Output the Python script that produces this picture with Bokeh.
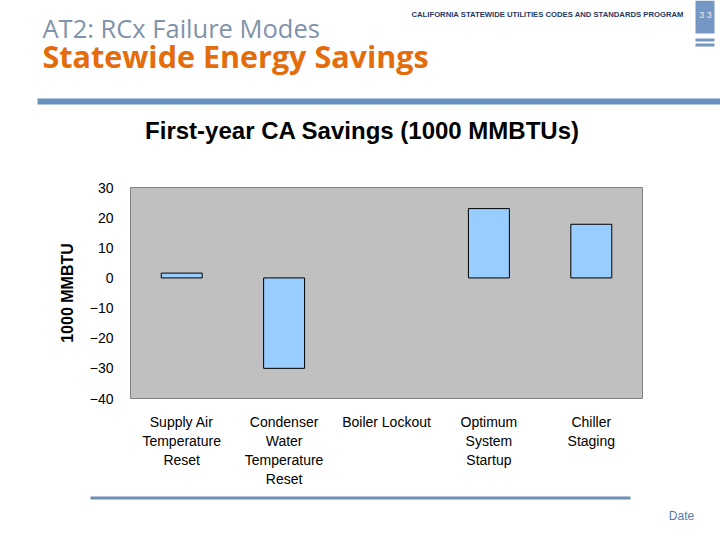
from bokeh.plotting import figure
from bokeh.layouts import column
from bokeh.models import Range1d, FactorRange, FixedTicker
from bokeh.core.properties import value
from bokeh.embed import file_html
from bokeh.resources import INLINE

categories = ["Supply Air\nTemperature\nReset", "Condenser\nWater\nTemperature\nReset",
              "Boiler Lockout", "Optimum\nSystem\nStartup", "Chiller\nStaging"]
savings = [1.6, -30.0, 0.0, 23.0, 17.8]
y_ticks = [-40, -30, -20, -10, 0, 10, 20, 30]

W = 720
H_HEAD, H_CHART, H_FOOT = 165, 325, 50


def canvas(h, y0):
    f = figure(width=W, height=h, output_backend="svg", toolbar_location=None,
               x_range=Range1d(0, W), y_range=Range1d(y0 + h, y0),
               x_axis_type=None, y_axis_type=None, min_border=0,
               background_fill_color="white", border_fill_color="white")
    f.outline_line_color = None
    f.grid.visible = False
    f.frame_align = False
    return f


def txt(f, x, y, s, size, color, font="Liberation Sans", style="normal", align="left"):
    f.text(x=[x], y=[y], text=[s], text_font=value(font), text_font_size=value(size),
           text_color=color, text_font_style=style, text_align=align, text_baseline="middle")


def box(f, x0, y0, x1, y1, color):
    f.quad(left=[x0], right=[x1], top=[y0], bottom=[y1], fill_color=color, line_color=None)


# header
head = canvas(H_HEAD, 0)
txt(head, 42, 27, "AT2: RCx Failure Modes", "25.5px", "#7f93aa", font="Open Sans")
txt(head, 42, 55, "Statewide Energy Savings", "30.5px", "#E46C0A", font="Open Sans", style="bold")
txt(head, 411, 14, "CALIFORNIA STATEWIDE UTILITIES CODES AND STANDARDS PROGRAM", "7.7px", "#1F3864",
    font="Liberation Sans", style="bold")
box(head, 695, 0, 714, 33, "#7497C3")
txt(head, 705, 14, "3 3", "9px", "#E8EEF6", align="center")
box(head, 695, 38, 714, 41, "#7497C3")
box(head, 695, 43, 714, 46, "#7497C3")
box(head, 37, 98, 720, 104, "#6990BE")
txt(head, 362, 130, "First-year CA Savings (1000 MMBTUs)", "24px", "black", style="bold", align="center")

# chart
FL, FR, FT, FB = 130, 78, 22, 91
p = figure(width=W, height=H_CHART, output_backend="svg", toolbar_location=None,
           x_range=FactorRange(factors=categories), y_range=Range1d(-40, 30),
           min_border_left=FL, min_border_right=FR, min_border_top=FT, min_border_bottom=FB,
           background_fill_color="#C0C0C0", border_fill_color="white")
p.outline_line_color = "#808080"
p.outline_line_width = 1
p.grid.visible = False
p.frame_align = False

p.vbar(x=categories, top=savings, bottom=0, width=0.4,
       fill_color="#99CCFF", line_color="black", line_width=1,
       line_alpha=[1.0 if v != 0 else 0.0 for v in savings])

ya = p.yaxis[0]
ya.ticker = FixedTicker(ticks=y_ticks)
ya.axis_line_color = None
ya.major_tick_line_color = None
ya.minor_tick_line_color = None
ya.major_label_text_font = "Liberation Sans"
ya.major_label_text_font_size = "14px"
ya.major_label_text_color = "black"
ya.major_label_standoff = 11
ya.axis_label = "1000 MMBTU"
ya.axis_label_text_font = "Liberation Sans"
ya.axis_label_text_font_style = "bold"
ya.axis_label_text_font_size = "16px"
ya.axis_label_text_color = "black"
ya.axis_label_standoff = 11

xa = p.xaxis[0]
xa.axis_line_color = None
xa.major_tick_line_color = None
xa.major_label_text_font = "Liberation Sans"
xa.major_label_text_font_size = "14px"
xa.major_label_text_color = "black"
xa.major_label_text_line_height = 1.2
xa.major_label_standoff = 9
xa.major_label_orientation = "horizontal"

# footer
foot = canvas(H_FOOT, H_HEAD + H_CHART)
box(foot, 90, 496, 630, 499, "#6E8EB2")
txt(foot, 681, 515, "Date", "12px", "#5A7BAA", align="center")

layout = column(head, p, foot, spacing=0)
open("out.html", "w").write(file_html(layout, INLINE))
